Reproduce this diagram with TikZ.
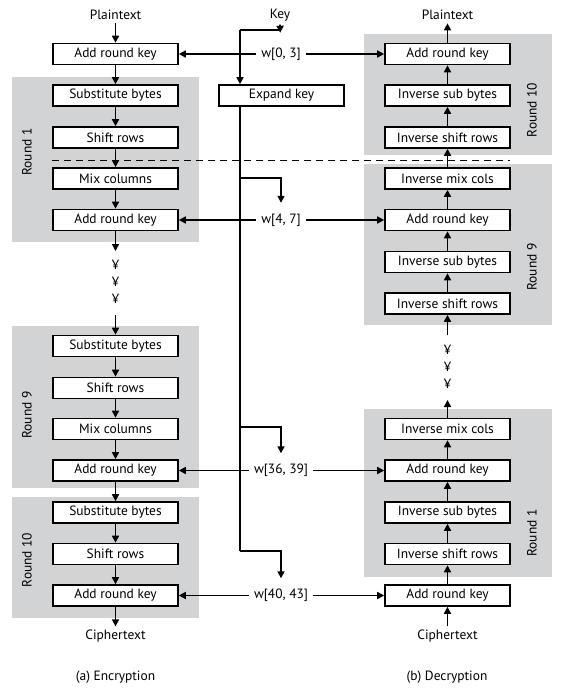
\documentclass[tikz,border=0pt]{standalone}
\usepackage{fontspec}
\setmainfont{PT Sans}
\usetikzlibrary{arrows.meta,calc}
\definecolor{roundgray}{RGB}{209,211,212}
\begin{document}
\begin{tikzpicture}[x=1bp,y=-1bp,
  every node/.style={font=\fontsize{13.5}{15}\selectfont},
  stepbox/.style={draw,line width=1.6bp,fill=white,minimum width=125bp,minimum height=21bp,inner sep=0pt},
  arr/.style={line width=1.6bp,-{Triangle[length=7bp,width=7bp]}},
  ln/.style={line width=1.6bp},
  wlbl/.style={inner xsep=5bp,inner ysep=0pt,minimum height=34bp},
  rlabel/.style={rotate=90,inner sep=0pt},
  dashline/.style={line width=0.9bp,dash pattern=on 7bp off 5bp}]
\useasboundingbox (0,0) rectangle (563,695);
% round backgrounds
\fill[roundgray] (12,77) rectangle (199,242);
\fill[roundgray] (12,326) rectangle (199,488);
\fill[roundgray] (12,497) rectangle (199,618);
\fill[roundgray] (364,34) rectangle (552,155);
\fill[roundgray] (364,164) rectangle (552,325);
\fill[roundgray] (364,409) rectangle (552,577);
% round labels
\node[rlabel] (lr1) at (27,152) {Round 1};
\node[rlabel] (lr9) at (27,415) {Round 9};
\node[rlabel] (lr10) at (27,560) {Round 10};
\node[rlabel] (rr10) at (532,110) {Round 10};
\node[rlabel] (rr9) at (532,267) {Round 9};
\node[rlabel] (rr1) at (532,533) {Round 1};
% dashed separator
\draw[dashline] (52,160) -- (510,160);
% encryption column
\node[stepbox] (eA0) at (115.5,54) {Add round key};
\node[stepbox] (eS1) at (115.5,95.5) {Substitute bytes};
\node[stepbox] (eR1) at (115.5,137.5) {Shift rows};
\node[stepbox] (eM1) at (115.5,178.5) {Mix columns};
\node[stepbox] (eA1) at (115.5,220) {Add round key};
\node[stepbox] (eS9) at (115.5,346) {Substitute bytes};
\node[stepbox] (eR9) at (115.5,388) {Shift rows};
\node[stepbox] (eM9) at (115.5,429) {Mix columns};
\node[stepbox] (eA9) at (115.5,470.5) {Add round key};
\node[stepbox] (eS10) at (115.5,512.5) {Substitute bytes};
\node[stepbox] (eR10) at (115.5,554) {Shift rows};
\node[stepbox] (eA10) at (115.5,595.5) {Add round key};
\node (ptl) at (115.5,15) {Plaintext};
\node (ctl) at (115.5,636) {Ciphertext};
\node (capa) at (115.5,677) {(a) Encryption};
\node[inner sep=0pt] (ld1) at (115.5,265) {¥};
\node[inner sep=0pt] (ld2) at (115.5,282) {¥};
\node[inner sep=0pt] (ld3) at (115.5,299) {¥};
\coordinate (la) at (115.5,251);
\coordinate (lb) at (115.5,315);
% decryption column
\node[stepbox] (dA10) at (447.5,54) {Add round key};
\node[stepbox] (dIS10) at (447.5,95.5) {Inverse sub bytes};
\node[stepbox] (dISR10) at (447.5,137.5) {Inverse shift rows};
\node[stepbox] (dIM9) at (447.5,178.5) {Inverse mix cols};
\node[stepbox] (dA9) at (447.5,220) {Add round key};
\node[stepbox] (dIS9) at (447.5,262) {Inverse sub bytes};
\node[stepbox] (dISR9) at (447.5,303.5) {Inverse shift rows};
\node[stepbox] (dIM1) at (447.5,429) {Inverse mix cols};
\node[stepbox] (dA1) at (447.5,470.5) {Add round key};
\node[stepbox] (dIS1) at (447.5,512.5) {Inverse sub bytes};
\node[stepbox] (dISR1) at (447.5,554) {Inverse shift rows};
\node[stepbox] (dA0) at (447.5,595.5) {Add round key};
\node (ptr) at (447.5,15) {Plaintext};
\node (ctr) at (447.5,636) {Ciphertext};
\node (capb) at (447,677) {(b) Decryption};
\node[inner sep=0pt] (rd1) at (447.5,350) {¥};
\node[inner sep=0pt] (rd2) at (447.5,367) {¥};
\node[inner sep=0pt] (rd3) at (447.5,384) {¥};
\coordinate (ra) at (447.5,335);
\coordinate (rb) at (447.5,400);
% key schedule
\node (key) at (280,15) {Key};
\node[stepbox] (ek) at (281.5,95.5) {Expand key};
\node[wlbl] (w03) at (281,54) {w[0, 3]};
\node[wlbl] (w47) at (281,220) {w[4, 7]};
\node[wlbl] (w3639) at (281,470.5) {w[36, 39]};
\node[wlbl] (w4043) at (281,595.5) {w[40, 43]};
\coordinate (kj) at (280,30);
\coordinate (kc) at (240,30);
\coordinate (kb1) at (240,178);
\coordinate (kb2) at (240,427);
\coordinate (kb3) at (240,551);
% encryption arrows
\draw[arr] (ptl) -- (eA0);
\draw[arr] (eA0) -- (eS1);
\draw[arr] (eS1) -- (eR1);
\draw[arr] (eR1) -- (eM1);
\draw[arr] (eM1) -- (eA1);
\draw[arr] (eA1) -- (la);
\draw[arr] (lb) -- (eS9);
\draw[arr] (eS9) -- (eR9);
\draw[arr] (eR9) -- (eM9);
\draw[arr] (eM9) -- (eA9);
\draw[arr] (eA9) -- (eS10);
\draw[arr] (eS10) -- (eR10);
\draw[arr] (eR10) -- (eA10);
\draw[arr] (eA10) -- (ctl);
% decryption arrows
\draw[arr] (ctr) -- (dA0);
\draw[arr] (dA0) -- (dISR1);
\draw[arr] (dISR1) -- (dIS1);
\draw[arr] (dIS1) -- (dA1);
\draw[arr] (dA1) -- (dIM1);
\draw[arr] (dIM1) -- (rb);
\draw[arr] (ra) -- (dISR9);
\draw[arr] (dISR9) -- (dIS9);
\draw[arr] (dIS9) -- (dA9);
\draw[arr] (dA9) -- (dIM9);
\draw[arr] (dIM9) -- (dISR10);
\draw[arr] (dISR10) -- (dIS10);
\draw[arr] (dIS10) -- (dA10);
\draw[arr] (dA10) -- (ptr);
% key arrows
\draw[arr,shorten >=4bp] (key.south -| kj) -- (w03);
\draw[ln] (kj) -- (kc);
\draw[arr] (kc) -- (kc |- ek.north);
\draw[ln] (kc |- ek.south) -- (kb3);
\draw[arr] (kb1) -| (w47.north);
\draw[arr] (kb2) -| (w3639.north);
\draw[arr] (kb3) -| (w4043.north);
\draw[arr] (w03) -- (eA0);
\draw[arr] (w03) -- (dA10);
\draw[arr] (w47) -- (eA1);
\draw[arr] (w47) -- (dA9);
\draw[arr] (w3639) -- (eA9);
\draw[arr] (w3639) -- (dA1);
\draw[arr] (w4043) -- (eA10);
\draw[arr] (w4043) -- (dA0);
\end{tikzpicture}
\end{document}
